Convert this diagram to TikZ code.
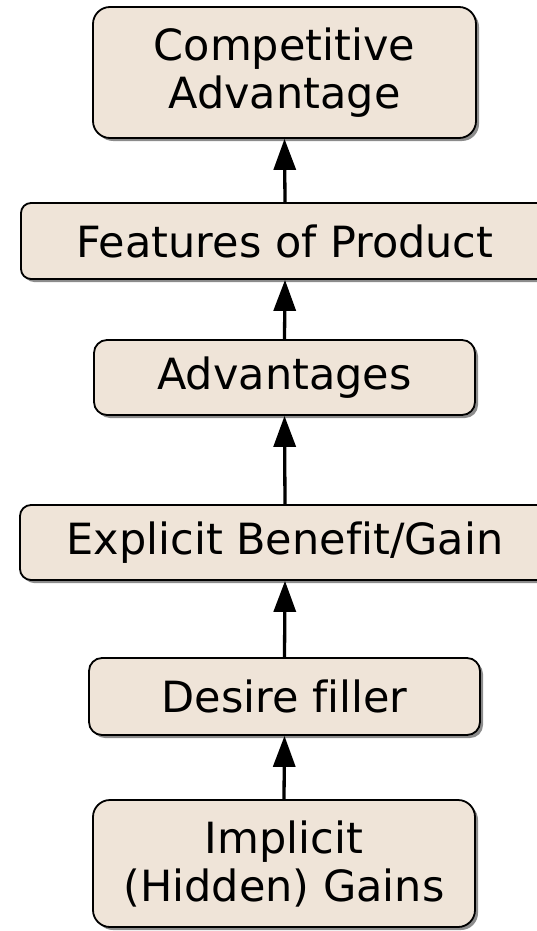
\documentclass[tikz,border=0pt]{standalone}
\usepackage{fontspec}
\setmainfont[Ligatures=NoCommon]{DejaVu Sans}
\usetikzlibrary{shadows,arrows.meta}
\definecolor{boxfill}{RGB}{239,228,216}
\begin{document}
\begin{tikzpicture}[x=1pt,y=1pt,
  box/.style={draw=black, line width=1.8pt, fill=boxfill, inner sep=0pt, align=center,
    font=\fontsize{43}{48}\selectfont,
    drop shadow={shadow xshift=3pt, shadow yshift=-3pt, fill=black!45, opacity=1}},
  conn/.style={line width=3.3pt, -{Triangle[width=22pt,length=31pt]}}]
\useasboundingbox (0,0) rectangle (536,-931);
\node[box, rounded corners=17pt, minimum width=383pt, minimum height=131pt] (a) at (284.5,-72.5) {Competitive\\Advantage};
\node[box, rounded corners=10pt, minimum width=528pt, minimum height=76pt] (b) at (285,-241) {Features of Product};
\node[box, rounded corners=13pt, minimum width=381pt, minimum height=75pt] (c) at (284.5,-377.5) {Advantages};
\node[box, rounded corners=11pt, minimum width=530pt, minimum height=75pt] (d) at (285,-542.5) {Explicit Benefit/Gain};
\node[box, rounded corners=13pt, minimum width=391pt, minimum height=77pt] (e) at (284.5,-696.5) {Desire filler};
\node[box, rounded corners=17pt, minimum width=382pt, minimum height=127pt] (f) at (284,-863.5) {Implicit\\(Hidden) Gains};
\draw[conn] (f.north) -- (e.south);
\draw[conn] (e.north) -- (d.south);
\draw[conn] (d.north) -- (c.south);
\draw[conn] (c.north) -- (b.south);
\draw[conn] (b.north) -- (a.south);
\end{tikzpicture}
\end{document}
